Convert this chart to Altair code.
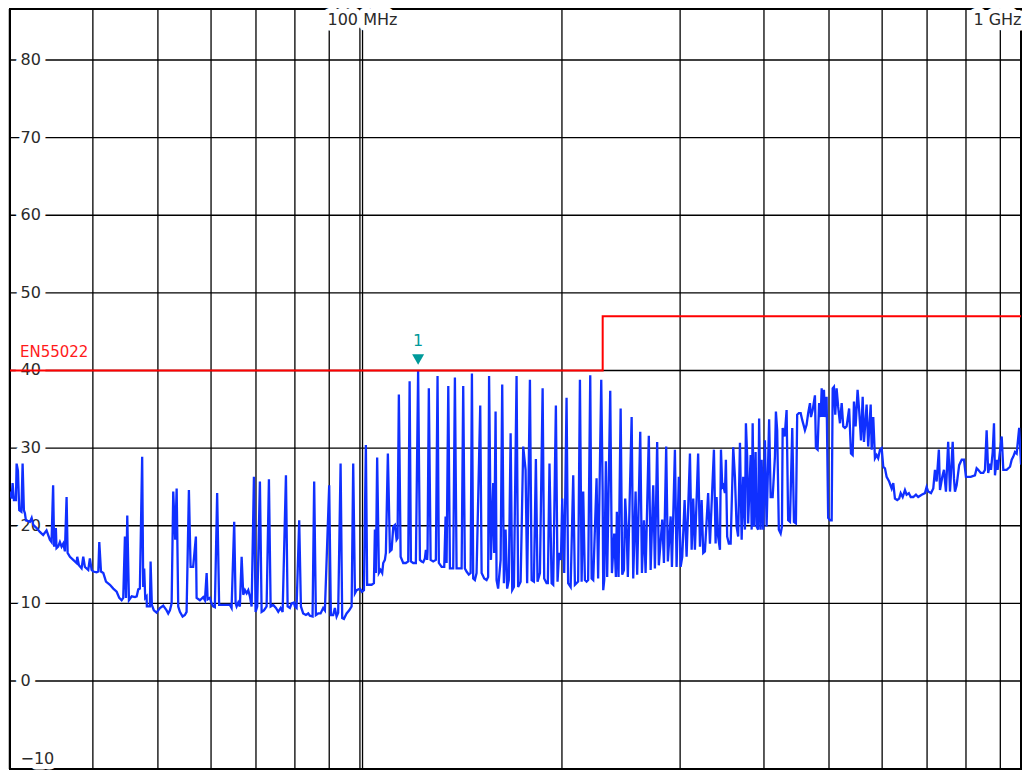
import altair as alt
import pandas as pd

# ---------------- measured trace (frequency in MHz, level in dB) ----------------
FREQ_1 = [30.10, 30.27, 30.37, 30.51, 30.72, 30.79, 30.93, 31.07, 31.30, 31.43,
          31.57, 31.68, 31.79, 32.23, 32.42, 32.60, 32.98, 33.35, 33.73, 34.12,
          34.51, 34.71, 34.90, 35.02, 35.23, 35.31, 35.51, 35.72, 35.93, 36.13,
          36.34, 36.55, 36.68, 36.97, 37.39, 37.83, 37.91, 38.13, 38.48, 38.70,
          38.92, 39.37, 39.59, 39.83, 40.05, 40.52, 40.75, 40.89, 41.13, 41.46,
          41.84, 42.41, 42.90, 43.40, 43.79, 44.15, 44.39, 44.65, 44.81, 45.01,
          45.27, 45.70, 46.22, 46.49, 46.74, 47.00, 47.37, 47.54, 47.70, 47.87,
          48.09, 48.14, 48.64, 48.76, 48.97, 49.31, 49.77, 50.34, 50.92, 51.51,
          51.80, 52.10, 52.41, 52.70, 53.06, 53.32]
LEVEL_1 = [24.4, 23.5, 25.5, 23.3, 23.3, 28.0, 27.1, 22.0, 21.8, 28.0,
           22.0, 21.6, 20.7, 20.5, 21.0, 20.1, 19.7, 19.2, 18.8, 19.4,
           18.2, 17.9, 25.2, 17.3, 19.7, 17.1, 17.3, 17.9, 17.3, 17.7,
           16.7, 23.7, 16.5, 16.0, 15.6, 15.2, 16.0, 14.9, 14.5, 16.0,
           14.7, 14.3, 15.8, 14.3, 14.1, 14.0, 14.1, 17.9, 14.1, 13.9,
           12.8, 12.4, 11.9, 11.5, 10.7, 10.4, 10.7, 18.6, 10.7, 21.3,
           10.4, 10.9, 10.8, 10.9, 11.8, 11.9, 28.9, 12.1, 14.5, 10.7,
           10.9, 9.6, 9.6, 15.4, 9.8, 9.1, 8.8, 9.4, 9.7, 9.1,
           8.7, 9.1, 10.0, 24.4, 18.2, 24.8]

FREQ_2 = [53.61, 53.92, 54.42, 54.85, 55.17, 55.61, 55.93, 56.43, 56.96, 57.10,
          57.75, 58.41, 58.75, 59.10, 59.30, 59.76, 60.10, 60.44, 60.79, 61.27,
          61.69, 62.54, 63.27, 64.01, 64.38, 64.96, 65.28, 65.50, 65.87, 66.24,
          66.64, 67.01, 67.40, 67.79, 68.17, 68.56, 68.96, 69.51, 69.91, 70.30,
          70.95, 71.37, 71.93, 72.60, 73.18, 73.61, 74.27, 74.96, 75.56, 76.17,
          76.70, 77.58, 78.03, 78.64, 79.10, 79.73, 80.00, 80.46, 81.19, 81.67,
          82.31, 83.08, 83.74, 84.22, 85.00, 85.47, 85.97, 86.66, 87.37, 88.15,
          88.67, 89.99, 90.51, 91.23, 91.76, 92.30, 92.81, 93.58, 94.10, 94.65,
          95.53, 96.39, 97.19, 97.72, 98.30, 98.87, 100.00, 100.69, 101.38]
LEVEL_2 = [9.6, 8.9, 8.3, 8.5, 8.9, 24.6, 14.7, 14.7, 18.6, 10.7,
           10.4, 10.8, 10.4, 13.9, 10.5, 10.7, 10.0, 9.6, 9.5, 24.2,
           9.8, 9.8, 9.8, 9.8, 9.4, 20.5, 10.0, 9.6, 10.1, 9.6,
           16.0, 11.1, 11.7, 11.3, 11.7, 10.9, 9.6, 26.3, 8.9, 9.6,
           25.7, 8.9, 9.1, 9.6, 26.0, 9.6, 9.8, 9.4, 8.9, 9.4,
           8.9, 26.5, 9.6, 9.4, 10.0, 10.1, 9.6, 9.4, 20.7, 9.6,
           8.7, 8.5, 8.7, 8.4, 8.3, 25.7, 8.5, 8.7, 8.7, 9.4,
           9.1, 25.2, 8.5, 8.5, 9.4, 8.3, 8.8, 28.0, 8.1, 8.0,
           8.7, 9.1, 9.6, 28.0, 11.3, 11.7, 11.9, 11.5, 11.7]

FREQ_3 = [102.06, 102.51, 104.09, 104.91, 105.27, 105.62, 106.09, 106.72, 107.36, 107.95,
          108.32, 108.94, 109.31, 110.06, 110.84, 111.49, 112.12, 112.75, 113.40, 113.78,
          114.29, 114.99, 116.01, 117.08, 118.01, 118.59, 119.12, 120.06, 121.16, 122.10,
          122.86, 123.58, 124.25, 124.97, 125.39, 125.94, 126.11, 126.67, 127.45, 128.58,
          129.76, 130.51, 131.10, 132.35, 133.54, 134.17, 134.63, 135.41]
LEVEL_3 = [30.4, 12.4, 12.4, 12.6, 19.5, 13.9, 28.8, 13.9, 14.3, 13.9,
           15.2, 15.6, 16.5, 29.3, 16.7, 16.9, 19.9, 20.1, 18.2, 18.4,
           36.9, 16.0, 15.2, 15.2, 15.4, 38.6, 15.4, 15.2, 15.2, 40.0,
           15.6, 15.4, 15.3, 15.8, 16.9, 15.6, 16.7, 37.7, 15.6, 15.4,
           15.6, 39.3, 15.2, 14.7, 14.7, 21.2, 15.2, 38.0]

FREQ_4 = [136.18, 137.72, 138.52, 139.32, 140.53, 141.75, 142.53, 143.35, 144.18, 145.29,
          146.20, 146.85, 147.50, 148.36, 149.21, 151.10, 151.82, 153.17, 154.42, 155.25,
          155.76, 156.75, 157.98, 158.52, 159.27, 159.81, 160.67, 162.05, 162.94, 163.88,
          164.83, 165.72, 166.66, 167.71, 168.63, 169.61, 171.16, 172.08, 173.57, 175.11,
          176.54, 177.49, 179.19, 180.24, 181.65, 182.89, 183.93, 185.45, 187.17, 188.19,
          189.72, 190.55, 191.63, 193.04, 194.10, 195.88, 197.00, 198.05, 199.30, 200.19,
          201.56, 203.19, 204.29, 206.06, 207.89, 209.09, 211.42, 212.73, 213.97, 215.14,
          216.39, 217.63, 218.80, 220.39, 221.45, 222.66, 225.23, 226.44, 228.87, 229.96,
          230.43, 231.22, 232.55, 233.57, 236.04, 237.42, 239.28, 240.66, 241.47, 242.85,
          244.62, 245.96, 247.39, 248.48, 249.65, 250.74, 254.03, 255.41, 257.50, 258.89,
          261.64, 263.17, 264.96, 266.49, 269.45, 271.14, 273.56, 275.14, 277.28, 278.86,
          282.15, 283.79, 286.00, 287.64, 290.41, 291.70, 294.69, 296.38, 298.67]
LEVEL_4 = [14.5, 14.5, 39.1, 14.5, 14.5, 14.5, 38.0, 14.5, 14.1, 13.7,
           13.9, 39.6, 13.2, 13.0, 13.9, 35.5, 13.9, 13.2, 13.0, 13.4,
           39.3, 15.6, 25.5, 16.5, 34.7, 13.0, 11.9, 15.6, 38.2, 12.6,
           19.5, 11.9, 13.0, 31.9, 11.7, 12.1, 39.3, 12.1, 12.8, 30.2,
           27.2, 12.6, 38.8, 13.0, 12.8, 28.6, 12.8, 13.9, 37.7, 13.2,
           12.6, 12.6, 28.0, 12.6, 12.4, 35.5, 12.8, 16.5, 15.6, 23.5,
           13.9, 36.5, 12.6, 12.1, 26.5, 12.4, 12.8, 38.8, 12.8, 24.4,
           13.0, 12.8, 13.0, 39.4, 13.2, 13.0, 26.1, 13.2, 38.8, 24.6,
           11.7, 13.0, 28.3, 13.4, 37.4, 13.9, 19.0, 13.4, 21.8, 13.4,
           35.1, 13.7, 14.3, 23.5, 19.7, 13.4, 34.0, 13.2, 24.4, 13.7,
           32.1, 13.9, 20.7, 13.9, 31.6, 14.3, 25.2, 14.5, 30.8, 14.9,
           20.8, 15.2, 30.2, 15.4, 21.2, 14.7, 29.8, 14.7, 26.3]

FREQ_5 = [300.54, 302.19, 304.66, 306.73, 310.29, 312.10, 313.81, 315.62, 319.14, 321.12,
          322.99, 324.76, 326.64, 330.28, 332.33, 336.90, 338.84, 339.98, 341.81, 343.93,
          345.11, 346.65, 347.83, 349.84, 351.02, 352.56, 354.57, 356.80, 359.98, 362.06,
          364.14, 366.10, 368.37, 370.52, 372.55, 374.70, 375.97, 377.61, 378.88, 382.15,
          383.46, 384.77, 386.47, 388.70, 390.01, 392.11, 393.41, 395.49, 396.84, 399.01,
          401.32, 403.63, 407.15, 409.29, 412.10, 415.33, 416.73, 418.55, 420.94, 423.59,
          425.47, 426.49, 429.40, 432.30, 434.63, 437.32, 440.78, 443.33, 446.34, 448.29,
          450.85, 453.68, 456.17, 458.81, 460.37, 463.01, 465.50, 468.39, 470.00, 472.74,
          476.44, 478.05, 480.79, 483.36, 485.91, 487.57, 489.24, 491.41, 493.07, 495.90,
          498.57]
LEVEL_5 = [14.7, 16.0, 23.3, 16.0, 29.3, 16.9, 23.5, 16.9, 29.3, 17.3,
           23.3, 16.5, 16.7, 24.2, 17.7, 29.8, 17.7, 23.7, 18.6, 16.9,
           29.8, 25.0, 25.2, 24.2, 28.5, 18.6, 17.7, 17.7, 30.1, 26.3,
           19.9, 18.6, 30.7, 18.2, 26.3, 19.5, 33.2, 28.9, 20.3, 29.1,
           19.5, 33.2, 19.9, 29.5, 19.9, 19.5, 33.8, 19.5, 28.5, 19.5,
           31.0, 19.9, 33.7, 23.7, 23.7, 28.9, 34.7, 32.3, 19.5, 19.0,
           19.9, 32.6, 31.5, 34.9, 20.7, 20.5, 32.6, 20.5, 20.3, 34.3,
           34.5, 34.5, 33.6, 32.8, 32.3, 33.0, 34.5, 35.8, 34.0, 34.9,
           36.8, 30.0, 29.8, 35.8, 34.0, 37.7, 34.0, 37.5, 34.0, 36.6,
           21.0]

FREQ_6 = [501.67, 504.60, 506.33, 508.57, 510.81, 513.22, 515.98, 519.18, 522.21, 525.07,
          528.10, 531.14, 535.77, 539.16, 542.30, 544.70, 547.84, 551.53, 554.48, 557.98,
          561.23, 563.72, 568.88, 571.94, 576.87, 578.84, 582.01, 585.37, 588.73, 591.90,
          595.57, 599.05, 602.32, 605.81, 609.29, 614.60, 619.97, 623.36, 626.97, 631.84,
          636.07, 639.43, 643.81, 648.85, 652.58, 657.62, 661.75, 667.65, 673.77, 678.99,
          687.19, 694.94, 698.93, 702.69, 709.49, 715.08, 719.21, 723.34, 728.93, 731.74,
          737.52, 741.80, 746.83, 752.59, 757.29, 764.32, 767.70, 770.31, 774.73, 781.49,
          788.31, 794.51, 799.89, 813.04, 825.03, 829.77, 834.23, 841.43, 848.93, 853.84,
          858.74, 863.36, 868.72, 871.71, 876.78, 880.67, 883.65, 888.73, 891.72, 896.48,
          904.30, 909.25, 919.76, 930.44, 935.87, 940.99, 946.43, 951.87, 960.18, 966.23,
          973.84, 981.80, 987.10, 990.30]
LEVEL_6 = [20.7, 20.7, 37.7, 37.9, 34.3, 37.7, 35.3, 33.2, 35.8, 32.8,
           32.6, 32.8, 35.1, 29.3, 29.1, 36.0, 32.8, 37.5, 34.9, 31.0,
           36.6, 30.8, 35.6, 30.2, 35.6, 29.8, 34.0, 28.7, 29.1, 28.7,
           29.8, 30.0, 27.6, 27.4, 26.3, 25.7, 24.8, 25.5, 23.5, 23.3,
           23.5, 24.2, 23.7, 24.6, 24.0, 24.2, 23.7, 23.7, 24.0, 23.7,
           24.0, 24.2, 25.0, 24.4, 24.2, 24.8, 27.2, 25.7, 29.8, 24.6,
           26.3, 27.2, 24.4, 30.8, 24.4, 30.8, 26.1, 24.4, 25.2, 27.8,
           28.5, 28.5, 26.3, 26.3, 26.5, 27.4, 27.2, 26.8, 26.8, 27.2,
           32.3, 26.8, 28.0, 27.2, 29.5, 33.2, 26.5, 28.5, 27.2, 28.7,
           31.5, 27.2, 27.2, 27.6, 28.5, 28.9, 29.5, 29.3, 32.6, 28.0,
           27.8, 27.8, 29.3, 32.0]

# ---------------- grid, limit line, marker, labels ----------------
GRID_FREQ_MHZ = [40, 50, 60, 70, 80, 90, 100, 200, 300, 400, 500, 600, 700, 800, 900]
GRID_LEVEL_DB = [0, 10, 20, 30, 40, 50, 60, 70, 80]
Y_TICK_LEVELS = [80, 70, 60, 50, 40, 30, 20, 10, 0, -10]
LIMIT_FREQ = [30, 230, 230, 1000]
LIMIT_LEVEL = [40, 40, 47, 47]
LIMIT_NAME = ["EN55022"]
MARKER_FREQ = [122.1]
MARKER_LEVEL = [40.0]
MARKER_LABEL = ["1"]
FREQ_LABEL_MHZ = [100, 1000]
FREQ_LABEL_TEXT = ["100 MHz", "1 GHz"]

# ---------------- tables ----------------
trace_f = FREQ_1 + FREQ_2 + FREQ_3 + FREQ_4 + FREQ_5 + FREQ_6
trace_l = LEVEL_1 + LEVEL_2 + LEVEL_3 + LEVEL_4 + LEVEL_5 + LEVEL_6
n = min(len(trace_f), len(trace_l))
trace_df = pd.DataFrame({"freq": trace_f[:n], "level": trace_l[:n], "idx": list(range(n))})
limit_df = pd.DataFrame({"freq": LIMIT_FREQ, "level": LIMIT_LEVEL, "idx": list(range(len(LIMIT_FREQ)))})
ylab_df = pd.DataFrame({"level": Y_TICK_LEVELS,
                        "label": [str(v).replace("-", "\u2212") for v in Y_TICK_LEVELS]})
flab1_df = pd.DataFrame({"freq": FREQ_LABEL_MHZ[:1], "label": FREQ_LABEL_TEXT[:1]})
flab2_df = pd.DataFrame({"freq": FREQ_LABEL_MHZ[1:], "label": FREQ_LABEL_TEXT[1:]})
mk_df = pd.DataFrame({"freq": MARKER_FREQ, "level": MARKER_LEVEL, "label": MARKER_LABEL})
lim_lab_df = pd.DataFrame({"level": LIMIT_LEVEL[:1], "label": LIMIT_NAME})

# plot area kept inside the 1030x783 window (8px page margin)
W, H = 1011, 760
xs = alt.Scale(type="log", domain=[30.1, 966.2], nice=False)
ys = alt.Scale(domain=[-11.34, 86.57], nice=False, zero=False)


def X(f):
    return alt.X(f, type="quantitative", scale=xs, axis=None)


def Y(f):
    return alt.Y(f, type="quantitative", scale=ys, axis=None)


FONT = "DejaVu Sans"
GRID_W = 1.3
TXT = "#2a2a2a"

vgrid = alt.Chart(pd.DataFrame({"freq": GRID_FREQ_MHZ})).mark_rule(
    color="black", strokeWidth=GRID_W).encode(x=X("freq"))
vgrid2 = alt.Chart(pd.DataFrame({"freq": GRID_FREQ_MHZ[6:7]})).mark_rule(
    color="black", strokeWidth=GRID_W, xOffset=2.6).encode(x=X("freq"))
hgrid = alt.Chart(pd.DataFrame({"level": GRID_LEVEL_DB})).mark_rule(
    color="black", strokeWidth=GRID_W).encode(y=Y("level"))
left_edge = alt.Chart(pd.DataFrame({"k": [0]})).mark_rule(
    color="black", strokeWidth=1.5).encode(x=alt.value(-2.5), y=alt.value(0), y2=alt.value(H))

halo_kw = dict(fill="white", stroke="white", strokeWidth=11, strokeJoin="round",
               font=FONT, fontSize=16, baseline="middle")
ylab_halo = alt.Chart(ylab_df).mark_text(align="left", **halo_kw).encode(
    x=alt.value(10.5), y=Y("level"), text="label:N")
ylab = alt.Chart(ylab_df).mark_text(align="left", baseline="middle", font=FONT, fontSize=16,
                                    fill=TXT).encode(
    x=alt.value(10.5), y=Y("level"), text="label:N")

f1_halo = alt.Chart(flab1_df).mark_text(align="center", dx=2.5, **halo_kw).encode(
    x=X("freq"), y=alt.value(11), text="label:N")
f1 = alt.Chart(flab1_df).mark_text(align="center", dx=2.5, baseline="middle", font=FONT,
                                   fontSize=16, fill=TXT).encode(
    x=X("freq"), y=alt.value(11), text="label:N")
f2_halo = alt.Chart(flab2_df).mark_text(align="right", dx=-9.5, **halo_kw).encode(
    x=X("freq"), y=alt.value(11), text="label:N")
f2 = alt.Chart(flab2_df).mark_text(align="right", dx=-9.5, baseline="middle", font=FONT,
                                   fontSize=16, fill=TXT).encode(
    x=X("freq"), y=alt.value(11), text="label:N")

trace = alt.Chart(trace_df).mark_line(color="#1030ff", strokeWidth=2.3, clip=True).encode(
    x=X("freq"), y=Y("level"), order="idx:Q")

limit = alt.Chart(limit_df).mark_line(color="#ff0000", strokeWidth=2, clip=True).encode(
    x=X("freq"), y=Y("level"), order="idx:Q")
limit_label = alt.Chart(lim_lab_df).mark_text(align="left", baseline="middle", font=FONT,
                                              fontSize=15, fill="#ff1a1a", dy=-18).encode(
    x=alt.value(10), y=Y("level"), text="label:N")

marker = alt.Chart(mk_df).mark_point(shape="triangle-down", filled=True, size=144,
                                     color="#009a9a", opacity=1, yOffset=-11).encode(
    x=X("freq"), y=Y("level"))
marker_text = alt.Chart(mk_df).mark_text(align="center", baseline="middle", font=FONT,
                                         fontSize=16, fill="#009a9a", yOffset=-29.5).encode(
    x=X("freq"), y=Y("level"), text="label:N")

chart = alt.layer(
    vgrid, vgrid2, hgrid, left_edge,
    ylab_halo, f1_halo, f2_halo,
    ylab, f1, f2,
    trace, limit, limit_label, marker, marker_text,
).properties(
    width=W, height=H,
    autosize=alt.AutoSizeParams(type="none"),
    padding={"left": 2, "top": 1, "right": 1, "bottom": 1},
    background="white",
).configure_view(stroke="black", strokeWidth=2)

chart.save("out.html", embed_options={"renderer": "svg", "actions": False})
